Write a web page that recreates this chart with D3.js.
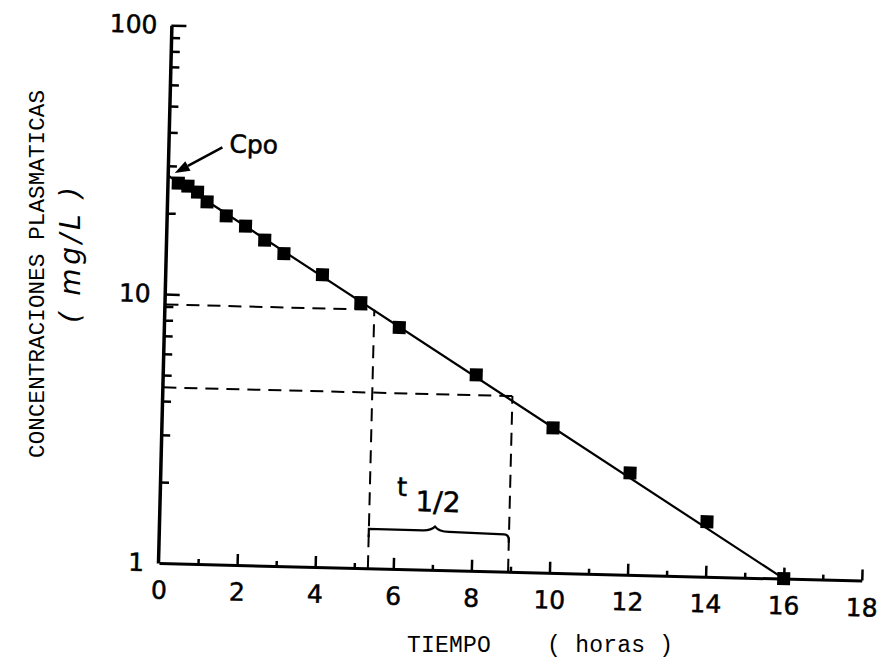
<!DOCTYPE html>
<html>
<head>
<meta charset="utf-8">
<script src="https://cdn.jsdelivr.net/npm/d3@7"></script>
<style>
  html, body { margin: 0; padding: 0; background: #fff; }
  svg { display: block; }
</style>
</head>
<body>
<svg id="chart" width="879" height="659"></svg>
<script>
// ---- data ----
const times = [0.25, 0.5, 0.75, 1, 1.5, 2, 2.5, 3, 4, 5, 6, 8, 10, 12, 14, 16];
const conc  = [25.9, 25.3, 24.1, 22.2, 19.8, 18.2, 16.2, 14.5, 12.2, 9.7, 7.9, 5.35, 3.46, 2.39, 1.60, 1.0];
const fitTimes = [0, 16];
const fitConc  = [27.5, 1.0];
const halfTimes = [5.35, 8.94];
const halfConc  = [9.15, 4.5];
const cpoValue = 27.5;
const xMajorTicks = [0, 2, 4, 6, 8, 10, 12, 14, 16, 18];
const xMinorTicks = [1, 3, 5, 7, 9, 11, 13, 15, 17];
const yMajorTicks = [1, 10, 100];
const yMinorTicks = [2, 3, 4, 5, 6, 7, 8, 9, 20, 30, 40, 50, 60, 70, 80, 90];
const xTitle = "TIEMPO    ( horas )";
const yTitle = "CONCENTRACIONES PLASMATICAS";
const yUnit = "( mg/L )";
const cpoLabel = "Cpo";
const halfLabelT = "t";
const halfLabelSub = "1/2";

// ---- layout ----
const svg = d3.select("#chart");
svg.append("rect").attr("width", 879).attr("height", 659).attr("fill", "#fff");

const origin = [158, 563];
const tilt = 1.43;
const plotW = 704, plotH = 538;

const x = d3.scaleLinear().domain([0, 18]).range([1, plotW]);
const y = d3.scaleLog().domain([1, 100]).range([0, -plotH]);

const g = svg.append("g")
  .attr("transform", `translate(${origin[0]},${origin[1]}) rotate(${tilt})`);

const numFont = "'DejaVu Sans', sans-serif";

// x axis (major with labels)
const xAxisG = g.append("g")
  .call(d3.axisBottom(x).tickValues(xMajorTicks).tickSize(-11).tickSizeOuter(0).tickPadding(18).tickFormat(d3.format("d")));
xAxisG.select(".domain").attr("stroke-width", 3).attr("stroke", "#000");
xAxisG.selectAll(".tick line").attr("stroke-width", 2.5).attr("stroke", "#000");
xAxisG.selectAll(".tick text").attr("font-family", numFont).attr("font-size", 25).attr("fill", "#000")
  .attr("stroke", "#000").attr("stroke-width", 0.5);
xAxisG.selectAll(".tick").filter(d => d === 0).select("line").remove();

// x minor ticks
const xMinorG = g.append("g")
  .call(d3.axisBottom(x).tickValues(xMinorTicks).tickSize(-5).tickSizeOuter(0).tickFormat(""));
xMinorG.select(".domain").remove();
xMinorG.selectAll(".tick line").attr("stroke-width", 2.5).attr("stroke", "#000");

// y axis (major with labels)
const yAxisG = g.append("g")
  .call(d3.axisLeft(y).tickValues(yMajorTicks).tickSize(-15).tickSizeOuter(0).tickPadding(14).tickFormat(d3.format("d")));
yAxisG.select(".domain").attr("stroke-width", 3.5).attr("stroke", "#000");
yAxisG.selectAll(".tick line").attr("stroke-width", 2.5).attr("stroke", "#000");
yAxisG.selectAll(".tick text").attr("font-family", numFont).attr("font-size", 25).attr("fill", "#000")
  .attr("stroke", "#000").attr("stroke-width", 0.5);
yAxisG.selectAll(".tick").filter(d => d === 1).select("line").remove();

// y minor ticks
const yMinorG = g.append("g")
  .call(d3.axisLeft(y).tickValues(yMinorTicks).tickSize(-9).tickSizeOuter(0).tickFormat(""));
yMinorG.select(".domain").remove();
yMinorG.selectAll(".tick line").attr("stroke-width", 2.5).attr("stroke", "#000");

// dashed half-life guides
const dash = "13,8";
halfTimes.forEach((t, i) => {
  g.append("line")
    .attr("x1", x(0)).attr("x2", x(t))
    .attr("y1", y(halfConc[i])).attr("y2", y(halfConc[i]))
    .attr("stroke", "#000").attr("stroke-width", 2).attr("stroke-dasharray", dash);
  g.append("line")
    .attr("x1", x(t)).attr("x2", x(t))
    .attr("y1", y(1)).attr("y2", y(halfConc[i]))
    .attr("stroke", "#000").attr("stroke-width", 2).attr("stroke-dasharray", dash);
});

// fitted line
const line = d3.line().x(d => x(d[0])).y(d => y(d[1]));
g.append("path")
  .datum(fitTimes.map((t, i) => [t, fitConc[i]]))
  .attr("d", line)
  .attr("fill", "none").attr("stroke", "#000").attr("stroke-width", 2.2);

// data points
const sq = 13;
g.selectAll("rect.pt")
  .data(times.map((t, i) => [t, conc[i]]))
  .join("rect")
  .attr("class", "pt")
  .attr("x", d => x(d[0]) - sq / 2)
  .attr("y", d => y(d[1]) - sq / 2)
  .attr("width", sq).attr("height", sq)
  .attr("fill", "#000");

// brace for t1/2
const bx0 = x(halfTimes[0]), bx1 = x(halfTimes[1]);
const by = y(1.4);
const bmid = x((halfTimes[0] + halfTimes[1]) / 2) - 4;
const bracePath = d3.path();
bracePath.moveTo(bx0, by + 8);
bracePath.lineTo(bx0, by);
bracePath.lineTo(bmid - 12, by);
bracePath.quadraticCurveTo(bmid - 4, by, bmid, by - 4);
bracePath.quadraticCurveTo(bmid + 4, by + 1, bmid + 14, by + 1);
bracePath.lineTo(bx1 - 5, by + 2);
bracePath.quadraticCurveTo(bx1, by + 2, bx1, by + 8);
bracePath.lineTo(bx1, by + 10);
g.append("path").attr("d", bracePath.toString())
  .attr("fill", "none").attr("stroke", "#000").attr("stroke-width", 2.2);

g.append("text")
  .attr("x", bx0 + 27).attr("y", by - 34)
  .attr("font-family", numFont).attr("font-size", 26).attr("fill", "#000")
  .attr("stroke", "#000").attr("stroke-width", 0.5)
  .text(halfLabelT);
g.append("text")
  .attr("x", bx0 + 46).attr("y", by - 19)
  .attr("font-family", numFont).attr("font-size", 28).attr("fill", "#000")
  .attr("stroke", "#000").attr("stroke-width", 0.5)
  .text(halfLabelSub);

// Cpo arrow
const tip = [x(0) + 6, y(cpoValue) - 3];
const tail = [tip[0] + 47, tip[1] - 27];
const ang = Math.atan2(tip[1] - tail[1], tip[0] - tail[0]);
const headLen = 15, headW = 5.5;
const hb = [tip[0] - headLen * Math.cos(ang), tip[1] - headLen * Math.sin(ang)];
g.append("line")
  .attr("x1", tail[0]).attr("y1", tail[1]).attr("x2", hb[0]).attr("y2", hb[1])
  .attr("stroke", "#000").attr("stroke-width", 2.5);
g.append("path")
  .attr("d", `M${tip[0]},${tip[1]} L${hb[0] - headW * Math.sin(ang)},${hb[1] + headW * Math.cos(ang)} L${hb[0] + headW * Math.sin(ang)},${hb[1] - headW * Math.cos(ang)} Z`)
  .attr("fill", "#000");
g.append("text")
  .attr("x", tail[0] + 7).attr("y", tail[1] + 5)
  .attr("font-family", numFont).attr("font-size", 25).attr("fill", "#000")
  .attr("stroke", "#000").attr("stroke-width", 0.5)
  .text(cpoLabel);

// axis titles (not tilted)
svg.append("text")
  .attr("x", 407).attr("y", 652)
  .attr("font-family", "'Liberation Mono', monospace").attr("font-size", 23)
  .attr("textLength", 266).attr("lengthAdjust", "spacing")
  .style("white-space", "pre").attr("fill", "#000")
  .text(xTitle);

svg.append("text")
  .attr("transform", "translate(44,274) rotate(-90)")
  .attr("text-anchor", "middle")
  .attr("font-family", "'Liberation Mono', monospace").attr("font-size", 22.5)
  .attr("textLength", 368).attr("lengthAdjust", "spacing")
  .attr("fill", "#000")
  .text(yTitle);

svg.append("text")
  .attr("transform", "translate(80,255) rotate(-90)")
  .attr("text-anchor", "middle")
  .attr("font-family", "'DejaVu Sans', sans-serif").attr("font-style", "italic").attr("font-size", 28)
  .attr("textLength", 136).attr("lengthAdjust", "spacing")
  .style("white-space", "pre").attr("fill", "#000")
  .text(yUnit);
</script>
</body>
</html>
